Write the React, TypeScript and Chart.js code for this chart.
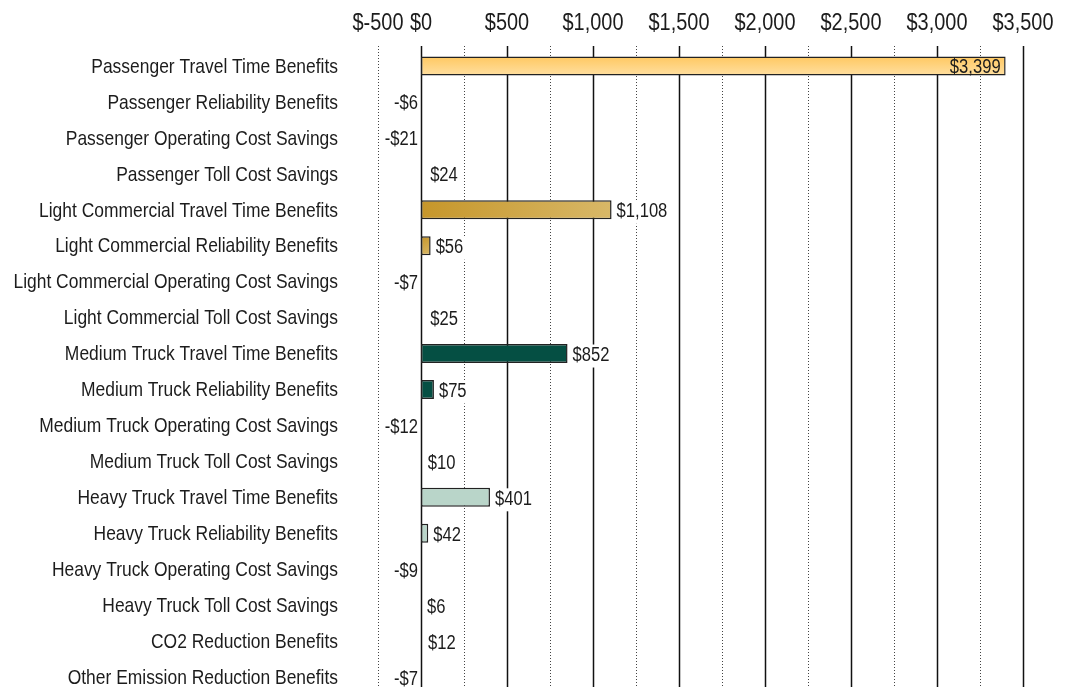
import React, { useEffect, useRef } from "react";
import { Chart, registerables } from "chart.js";

Chart.register(...registerables);

const categories = [
  "Passenger Travel Time Benefits",
  "Passenger Reliability Benefits",
  "Passenger Operating Cost Savings",
  "Passenger Toll Cost Savings",
  "Light Commercial Travel Time Benefits",
  "Light Commercial Reliability Benefits",
  "Light Commercial Operating Cost Savings",
  "Light Commercial Toll Cost Savings",
  "Medium Truck Travel Time Benefits",
  "Medium Truck Reliability Benefits",
  "Medium Truck Operating Cost Savings",
  "Medium Truck Toll Cost Savings",
  "Heavy Truck Travel Time Benefits",
  "Heavy Truck Reliability Benefits",
  "Heavy Truck Operating Cost Savings",
  "Heavy Truck Toll Cost Savings",
  "CO2 Reduction Benefits",
  "Other Emission Reduction Benefits",
];

const values = [3399, -6, -21, 24, 1108, 56, -7, 25, 852, 75, -12, 10, 401, 42, -9, 6, 12, -7];

// vehicle group of each row, used for colour
const groups = [
  "passenger", "passenger", "passenger", "passenger",
  "light", "light", "light", "light",
  "medium", "medium", "medium", "medium",
  "heavy", "heavy", "heavy", "heavy",
  "emission", "emission",
];

// benefit kind of each row: only travel time and reliability bars are filled
const kinds = [
  "time", "reliability", "operating", "toll",
  "time", "reliability", "operating", "toll",
  "time", "reliability", "operating", "toll",
  "time", "reliability", "operating", "toll",
  "emission", "emission",
];

const axisMin = -250;
const axisMax = 3500;
const axisStep = 250;
const majorStep = 500;
const firstTickLabel = "$-500";

const FONT = '"Liberation Sans", Arial, sans-serif';
const NARROW = 0.83; // horizontal squeeze to imitate a narrow face
const TEXT = "#1c1c1c";
const BAR_PCT = 0.53;

const fmtMoney = (v: number) =>
  (v < 0 ? "-$" : "$") + Math.abs(v).toLocaleString("en-US");

const tickText = (v: number) => {
  if (v === axisMin) return firstTickLabel;
  if (v % majorStep === 0) return "$" + v.toLocaleString("en-US");
  return "";
};

function narrowText(ctx: any, text: string, x: number, y: number, align: string) {
  ctx.save();
  ctx.translate(x, y);
  ctx.scale(NARROW, 1);
  ctx.textAlign = align;
  ctx.fillText(text, 0, 0);
  ctx.restore();
}

const isDrawn = (i: number) =>
  (kinds[i] === "time" || kinds[i] === "reliability") && values[i] > 0;

function barFill(ctx: any): any {
  const i = ctx.dataIndex;
  if (!isDrawn(i)) return "rgba(0,0,0,0)";
  const g = groups[i];
  const chart = ctx.chart;
  const xs = chart.scales && chart.scales.x;
  const ys = chart.scales && chart.scales.y;
  let geom: any = null;
  if (xs && ys) {
    const base = xs.getPixelForValue(0);
    const end = xs.getPixelForValue(values[i]);
    const yc = ys.getPixelForValue(i);
    const h = (ys.height / categories.length) * BAR_PCT;
    if ([base, end, yc, h].every((n) => Number.isFinite(n)) && h > 0) {
      geom = { base, end, top: yc - h / 2, bottom: yc + h / 2 };
    }
  }
  if (g === "passenger") {
    if (!geom) return "#FFD37F";
    const grad = chart.ctx.createLinearGradient(0, geom.top, 0, geom.bottom);
    grad.addColorStop(0, "#FFC861");
    grad.addColorStop(1, "#FFDFA0");
    return grad;
  }
  if (g === "light") {
    if (!geom) return "#D0A846";
    const grad = chart.ctx.createLinearGradient(geom.base, geom.top, geom.end, geom.bottom);
    grad.addColorStop(0, "#C6962A");
    grad.addColorStop(1, "#D8B868");
    return grad;
  }
  if (g === "medium") return "#054F43";
  if (g === "heavy") return "#B9D5C9";
  return "rgba(0,0,0,0)";
}

function barBorderWidth(ctx: any): number {
  return isDrawn(ctx.dataIndex) ? 1.5 : 0;
}

const gridPlugin = {
  id: "customGrid",
  beforeDatasetsDraw(chart: any) {
    const { ctx, chartArea, scales } = chart;
    const xs = scales.x;
    ctx.save();
    for (let v = axisMin; v <= axisMax; v += axisStep) {
      const x = Math.round(xs.getPixelForValue(v)) + 0.5;
      const major = v % majorStep === 0;
      ctx.beginPath();
      if (major) {
        ctx.setLineDash([]);
        ctx.strokeStyle = "#111";
        ctx.lineWidth = 1.5;
      } else {
        ctx.setLineDash([1, 2]);
        ctx.strokeStyle = "#444";
        ctx.lineWidth = 1;
      }
      ctx.moveTo(x, chartArea.top - 2);
      ctx.lineTo(x, chartArea.bottom);
      ctx.stroke();
    }
    ctx.restore();
  },
};

const axisLabelPlugin = {
  id: "axisLabels",
  afterDraw(chart: any) {
    const { ctx, scales, chartArea } = chart;
    const xs = scales.x;
    const ys = scales.y;
    ctx.save();
    ctx.fillStyle = TEXT;
    ctx.textBaseline = "middle";
    // category labels
    ctx.font = `21px ${FONT}`;
    categories.forEach((c, i) => {
      narrowText(ctx, c, chartArea.left - 40, ys.getPixelForValue(i) + 1, "right");
    });
    // value axis labels
    ctx.font = `24px ${FONT}`;
    xs.ticks.forEach((t: any) => {
      const s = tickText(Number(t.value));
      if (!s) return;
      narrowText(ctx, s, xs.getPixelForValue(t.value), 23, "center");
    });
    ctx.restore();
  },
};

const labelPlugin = {
  id: "valueLabels",
  afterDatasetsDraw(chart: any) {
    const { ctx } = chart;
    const meta = chart.getDatasetMeta(0);
    ctx.save();
    ctx.font = `20px ${FONT}`;
    ctx.textBaseline = "middle";
    meta.data.forEach((bar: any, i: number) => {
      const v = values[i];
      const text = fmtMoney(v);
      const { x, base, y } = bar.getProps(["x", "base", "y"], true);
      const w = ctx.measureText(text).width * NARROW;
      const ty = y + 2;
      if (v > 3000) {
        ctx.fillStyle = TEXT;
        narrowText(ctx, text, x - 5, ty, "right");
        return;
      }
      if (v >= 0) {
        const tx = Math.max(x, base) + 5;
        ctx.fillStyle = "#fff";
        ctx.fillRect(tx - 1, ty - 11, w + 3, 23);
        ctx.fillStyle = TEXT;
        narrowText(ctx, text, tx, ty, "left");
      } else {
        const tx = base - 3;
        ctx.fillStyle = "#fff";
        ctx.fillRect(tx - w - 2, ty - 11, w + 3, 23);
        ctx.fillStyle = TEXT;
        narrowText(ctx, text, tx, ty, "right");
      }
    });
    ctx.restore();
  },
};

export default function App() {
  const canvasRef = useRef<HTMLCanvasElement | null>(null);

  useEffect(() => {
    if (!canvasRef.current) return;
    const chart = new Chart(canvasRef.current, {
      type: "bar",
      data: {
        labels: categories,
        datasets: [
          {
            data: values,
            backgroundColor: barFill,
            borderColor: "#222",
            borderWidth: barBorderWidth,
            borderSkipped: false,
            barPercentage: BAR_PCT,
            categoryPercentage: 1,
          },
        ],
      },
      options: {
        indexAxis: "y",
        animation: false,
        responsive: true,
        maintainAspectRatio: false,
        layout: { padding: { left: 0, right: 43, top: 0, bottom: 0 } },
        plugins: {
          legend: { display: false },
          tooltip: { enabled: false },
        },
        scales: {
          x: {
            position: "top",
            min: axisMin,
            max: axisMax,
            grid: { display: false, drawTicks: false },
            border: { display: false },
            ticks: {
              display: false,
              stepSize: axisStep,
              autoSkip: false,
              maxRotation: 0,
              callback: (value: any) => tickText(Number(value)),
            },
            afterFit: (scale: any) => {
              scale.height = 48;
            },
          },
          y: {
            grid: { display: false, drawTicks: false },
            border: { display: false },
            ticks: { display: false, autoSkip: false },
            afterFit: (scale: any) => {
              scale.width = 378;
            },
          },
        },
      },
      plugins: [gridPlugin, labelPlugin, axisLabelPlugin],
    });
    return () => chart.destroy();
  }, []);

  return (
    <div
      style={{
        position: "fixed",
        left: 0,
        top: 0,
        width: 1066,
        height: 687,
        overflow: "hidden",
        background: "#fff",
      }}
    >
      <div style={{ position: "relative", width: 1066, height: 695 }}>
        <canvas ref={canvasRef} />
      </div>
    </div>
  );
}
